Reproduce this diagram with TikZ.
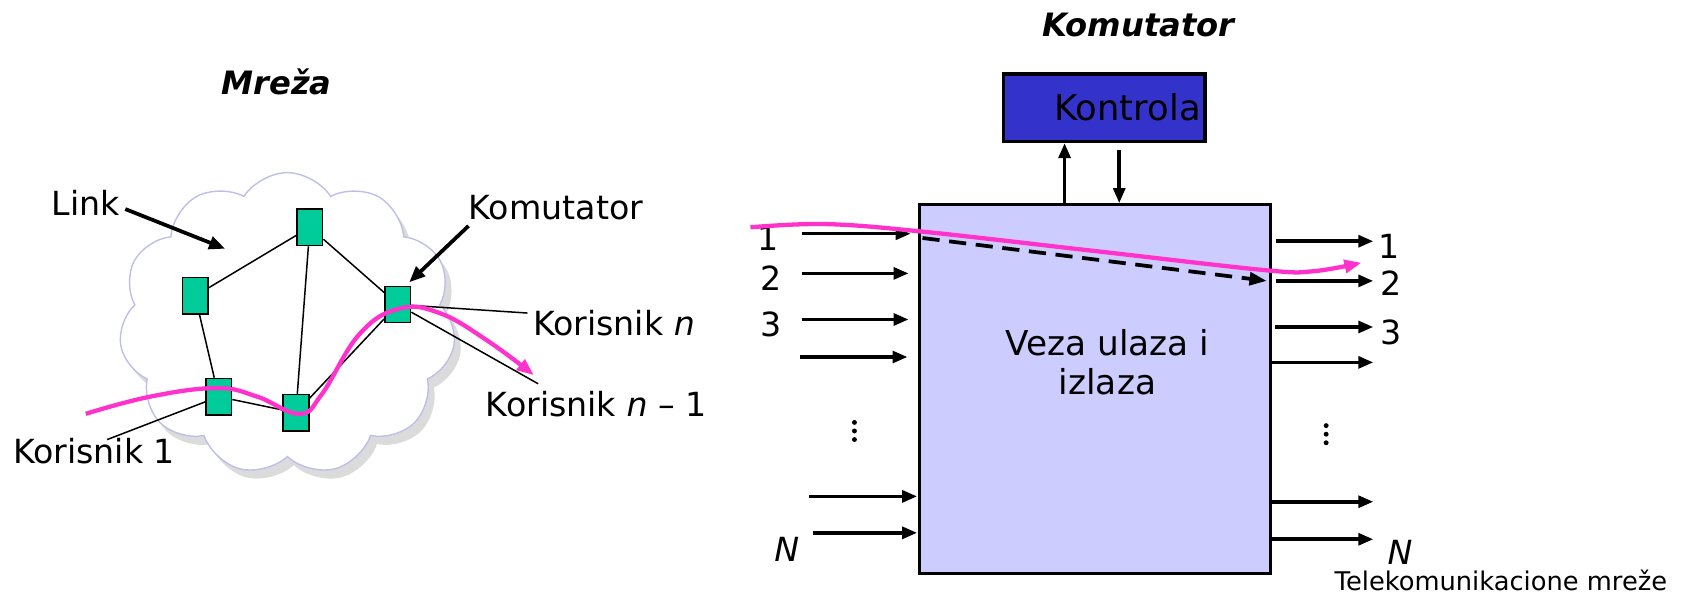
\documentclass[tikz,border=0pt]{standalone}
\usepackage{fontspec}
\setmainfont{DejaVu Sans}
\usetikzlibrary{arrows.meta,shapes.symbols,shadows,calc}
\definecolor{swgreen}{RGB}{0,204,153}
\definecolor{routepink}{RGB}{255,51,204}
\definecolor{ctrlblue}{RGB}{51,51,204}
\definecolor{boxlav}{RGB}{204,204,255}
\definecolor{cloudline}{RGB}{190,190,235}
\tikzset{sw/.style={draw,line width=1.4pt,fill=swgreen,minimum width=24pt,minimum height=34pt,inner sep=0pt}}
\tikzset{lnk/.style={line width=1.4pt}}
\tikzset{callout/.style={line width=3.5pt,-{Triangle[length=15pt,width=12pt]}}}
\tikzset{route/.style={routepink,line width=4pt,-{Triangle[length=16pt,width=12pt]}}}
\tikzset{io/.style={line width=3.3pt,-{Triangle[length=14pt,width=11pt]}}}
\tikzset{lbl/.style={font=\fontsize{31}{37}\selectfont,inner sep=0pt}}
\tikzset{ttl/.style={font=\fontsize{30}{36}\selectfont\bfseries\itshape,inner sep=0pt}}

\begin{document}
\begin{tikzpicture}[x=1pt,y=-1pt]
	\useasboundingbox (0,0) rectangle (1568,558);
	% mreza
	\node[ttl] (mtitle) at (258,76) {Mreža};
	\node[cloud,cloud puffs=11,cloud puff arc=115,draw=cloudline,line width=1.3pt,fill=white,
		minimum width=314pt,minimum height=282pt,
		drop shadow={shadow xshift=6pt,shadow yshift=-8pt,fill=black!28}] (net) at (268,302) {};
	\node[sw] (s1) at (182,276) {};
	\node[sw] (s2) at (289,212) {};
	\node[sw] (s3) at (371,284) {};
	\node[sw] (s4) at (204,370) {};
	\node[sw] (s5) at (276,385) {};
	\foreach \a/\b in {s1/s2,s2/s3,s2/s5,s1/s4,s4/s5,s5/s3}{
		\draw[lnk] (\a) -- (\b);
	}
	\coordinate (u1) at (100,410);
	\coordinate (un) at (492,292);
	\coordinate (un1) at (502,358);
	\draw[lnk] (s4) -- (u1);
	\draw[lnk] (s3) -- (un);
	\draw[lnk] (s3) -- (un1);
	\draw[route] plot[smooth,tension=0.7] coordinates {(80,386) (140,370) (202,362) (240,370) (279,386) (300,368) (335,312) (372,288) (410,292) (455,318) (498,350)};
	\node[lbl,anchor=west] (linklbl) at (48,189) {Link};
	\coordinate (linktip) at (210,232);
	\draw[callout] ($(linklbl.east)+(5,6)$) -- (linktip);
	\node[lbl,anchor=west] (komlbl) at (437,194) {Komutator};
	\draw[callout] ($(komlbl.south west)+(0,5)$) -- ($(s3.north east)+(-2,-3)$);
	\node[lbl,anchor=west] (kn) at (497,301) {Korisnik \textit{n}};
	\node[lbl,anchor=west] (kn1) at (453,377) {Korisnik \textit{n} – 1};
	\node[lbl,anchor=west] (k1) at (12,421) {Korisnik 1};

	% komutator
	\node[ttl] (ktitle) at (1062,23) {Komutator};
	\node[draw,line width=3pt,fill=ctrlblue,minimum width=188pt,minimum height=63pt,inner sep=2pt,
		text width=180pt,align=right,font=\fontsize{33}{38}\selectfont] (ctrl) at (1030,100.5) {Kontrola};
	\node[draw,line width=3pt,fill=boxlav,minimum width=327pt,minimum height=344pt] (main) at (1021.5,363) {};
	\node[lbl,align=center,font=\fontsize{32}{37}\selectfont] (veza) at (1033,338) {Veza ulaza i\\izlaza};
	\coordinate (cup) at (993,0);
	\coordinate (cdn) at (1044,0);
	\draw[io] (main.north -| cup) -- (ctrl.south -| cup);
	\draw[io] ($(ctrl.south -| cdn)+(0,6)$) -- (main.north -| cdn);
	\foreach \i/\xs/\y/\g in {1/748/218/7,2/748/255/9,3/748/298/9,4/746/333/10,5/755/463/1,6/758/497/1}{
		\coordinate (in\i) at (\xs,\y);
		\draw[io] (in\i) -- ($(in\i -| main.west)+(-\g,0)$);
	}
	\foreach \i/\y/\g in {1/225/4,2/262/4,3/305/3,4/338/0,5/468/0,6/503/0}{
		\coordinate (out\i) at (1281,\y);
		\draw[io] ($(out\i -| main.east)+(\g,0)$) -- (out\i);
	}
	\node[lbl] at (716,222) {1};
	\node[lbl] at (719,259) {2};
	\node[lbl] at (719,303) {3};
	\node[lbl] at (734,512) {\textit{N}};
	\node[lbl] at (1296,230) {1};
	\node[lbl] at (1298,264) {2};
	\node[lbl] at (1298,310) {3};
	\node[lbl] at (1306,515) {\textit{N}};
	\foreach \x/\y in {797/402,1237/405}{
		\foreach \d in {-8,0,8}{
			\fill (\x,\y+\d) circle (2.3pt);
		}
	}
	\draw[line width=3.5pt,dash pattern=on 16pt off 9pt,-{Triangle[length=16pt,width=12pt]}]
		($(main.west |- in1)+(4,4)$) -- ($(main.east |- out2)+(-5,0)$);
	\draw[route] plot[smooth,tension=0.6] coordinates {(700,212) (770,209) (860,216) (1020,234) (1180,252) (1225,253) (1270,245)};
	\node[font=\fontsize{24}{28}\selectfont,inner sep=0pt] (foot) at (1400,541) {Telekomunikacione mreže};
\end{tikzpicture}
\end{document}
